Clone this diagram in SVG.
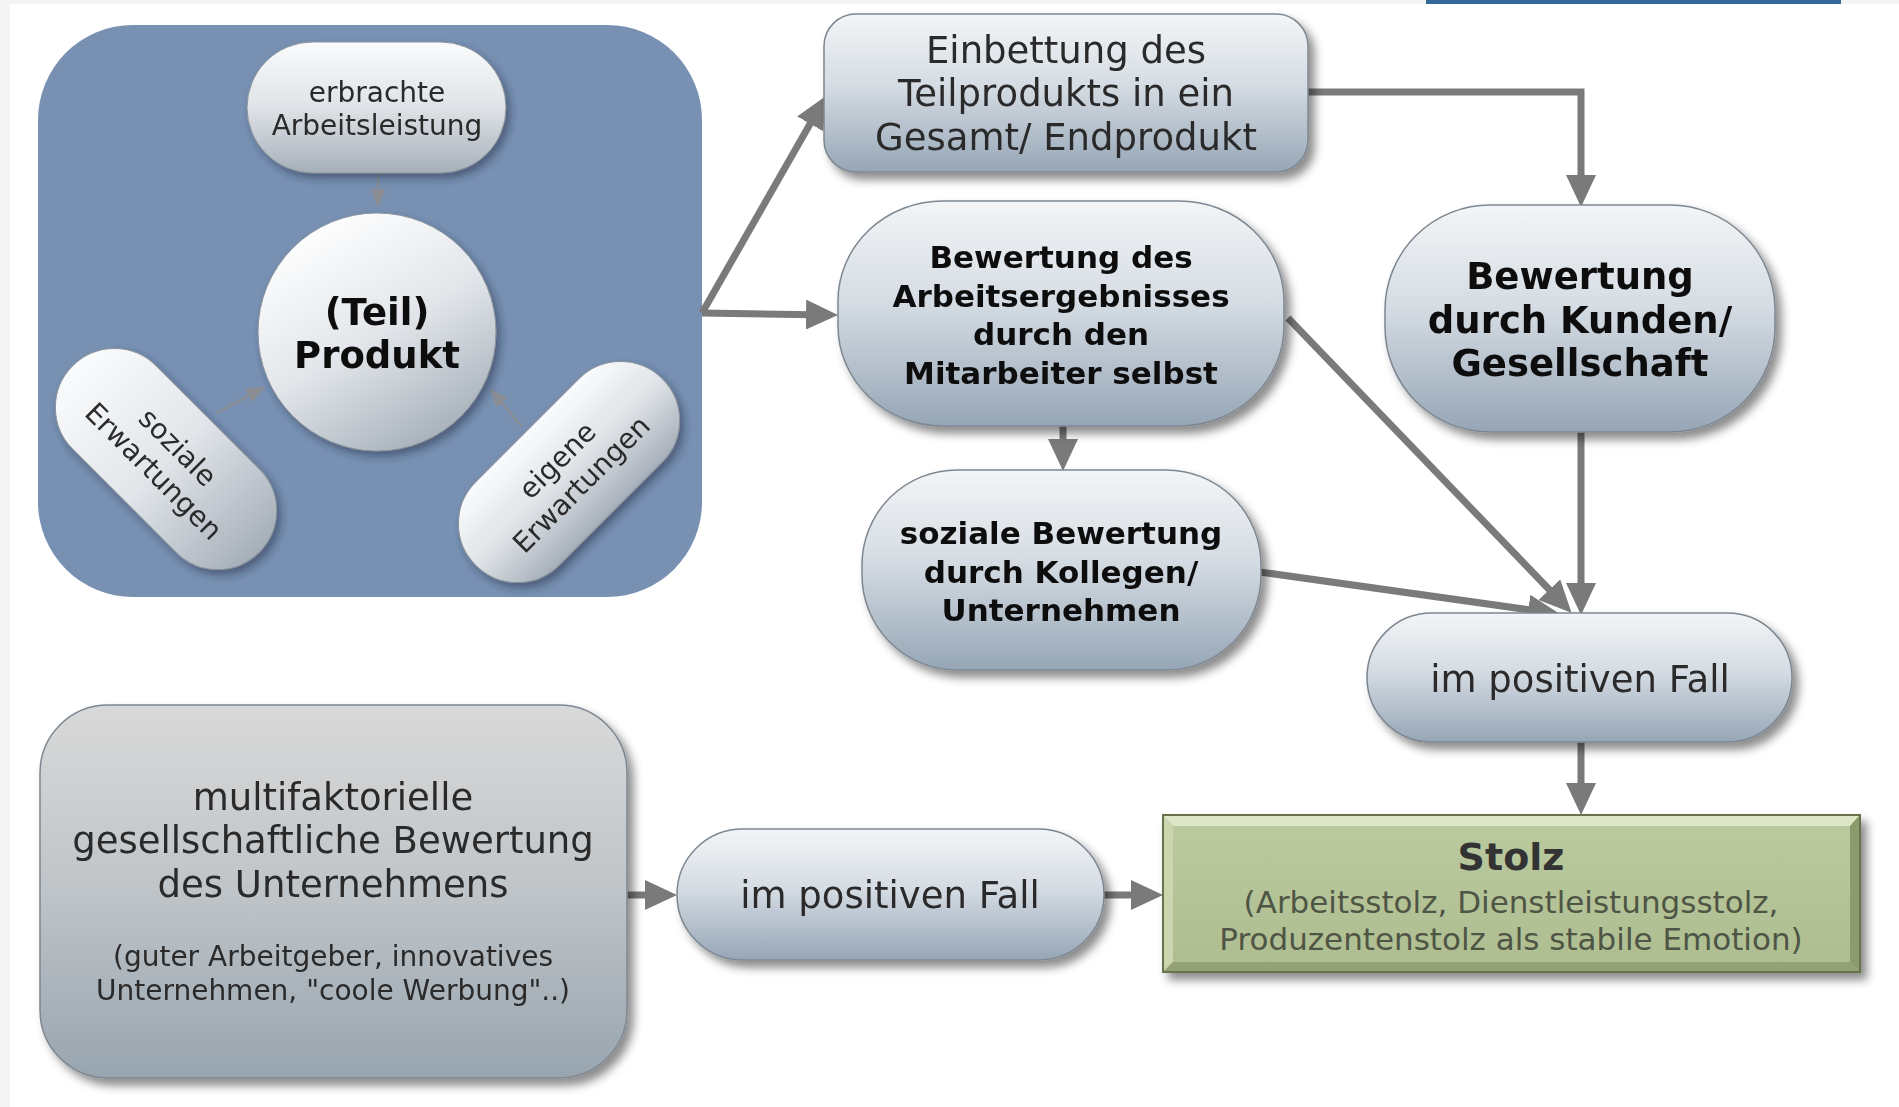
<svg xmlns="http://www.w3.org/2000/svg" width="1899" height="1107" viewBox="0 0 1899 1107">
<defs>
<style>
.t{font-family:"DejaVu Sans","Liberation Sans",sans-serif;fill:#2a2a2a;text-anchor:middle}
.r37{font-size:37px}
.r28{font-size:28px}
.r31{font-size:31px}
.b31{font-size:31px;font-weight:bold;fill:#111}
.b37{font-size:37px;font-weight:bold;fill:#111}
.nd{stroke:#7d8791;stroke-width:1.5}
.con{fill:none;stroke:#7a7a7a;stroke-width:7}
.thin{fill:none;stroke:#8a8e94;stroke-width:2.5}
</style>
<linearGradient id="gNode" x1="0" y1="0" x2="0" y2="1">
<stop offset="0" stop-color="#f3f5f7"/><stop offset="0.45" stop-color="#d5dce3"/><stop offset="1" stop-color="#96a6b6"/>
</linearGradient>
<linearGradient id="gMulti" x1="0" y1="0" x2="0" y2="1">
<stop offset="0" stop-color="#d9d9d9"/><stop offset="0.5" stop-color="#bfc4c8"/><stop offset="1" stop-color="#98a5af"/>
</linearGradient>
<linearGradient id="gPillV" x1="0" y1="0" x2="0" y2="1">
<stop offset="0" stop-color="#fafbfc"/><stop offset="0.5" stop-color="#dfe3e7"/><stop offset="1" stop-color="#a6afb9"/>
</linearGradient>
<linearGradient id="gPillH" x1="0" y1="0" x2="1" y2="0">
<stop offset="0" stop-color="#fafbfc"/><stop offset="0.5" stop-color="#e2e6ea"/><stop offset="1" stop-color="#a6afb9"/>
</linearGradient>
<linearGradient id="gCircle" x1="0.2" y1="0.05" x2="0.75" y2="1">
<stop offset="0" stop-color="#ffffff"/><stop offset="0.5" stop-color="#e2e6ea"/><stop offset="1" stop-color="#a3adb7"/>
</linearGradient>
<linearGradient id="gStolz" x1="0" y1="0" x2="0" y2="1">
<stop offset="0" stop-color="#bccb9f"/><stop offset="1" stop-color="#aebd90"/>
</linearGradient>
<filter id="sh" x="-20%" y="-20%" width="150%" height="150%">
<feDropShadow dx="6" dy="7" stdDeviation="5" flood-color="#000" flood-opacity="0.45"/>
</filter>
<filter id="shs" x="-20%" y="-20%" width="150%" height="150%">
<feDropShadow dx="4" dy="5" stdDeviation="4" flood-color="#1a2a40" flood-opacity="0.5"/>
</filter>
<marker id="ah" markerUnits="userSpaceOnUse" markerWidth="34" markerHeight="32" refX="24" refY="15" orient="auto">
<path d="M0,0 L32,15 L0,30 z" fill="#7a7a7a"/>
</marker>
<marker id="ahs" markerUnits="userSpaceOnUse" markerWidth="20" markerHeight="16" refX="14" refY="7.5" orient="auto">
<path d="M0,0 L19,7.5 L0,15 z" fill="#8a8e94"/>
</marker>
</defs>

<rect x="0" y="0" width="1899" height="1107" fill="#ffffff"/>
<rect x="0" y="0" width="1899" height="4" fill="#f3f3f3"/>
<rect x="0" y="0" width="10" height="1107" fill="#f4f4f4"/>
<rect x="1426" y="0" width="415" height="4" fill="#336699"/>

<g id="container">
<rect x="38" y="25" width="664" height="572" rx="95" fill="#7891b3"/>
</g>

<g id="connectors">
<path class="thin" d="M378,173 V203" marker-end="url(#ahs)"/>
<path class="thin" d="M217,413 L261,389" marker-end="url(#ahs)"/>
<path class="thin" d="M522,427 L493,392" marker-end="url(#ahs)"/>
<path class="con" d="M702,313 L822,103" marker-end="url(#ah)"/>
<path class="con" d="M702,313 L830,315" marker-end="url(#ah)"/>
<path class="con" d="M1306,92 H1581 V199" marker-end="url(#ah)"/>
<path class="con" d="M1063,426 V463" marker-end="url(#ah)"/>
<path class="con" d="M1288,318 L1566,607" marker-end="url(#ah)"/>
<path class="con" d="M1260,572 L1552,613" marker-end="url(#ah)"/>
<path class="con" d="M1581,431 V607" marker-end="url(#ah)"/>
<path class="con" d="M1581,742 V807" marker-end="url(#ah)"/>
<path class="con" d="M624,895 H669" marker-end="url(#ah)"/>
<path class="con" d="M1103,895 H1155" marker-end="url(#ah)"/>
</g>

<g id="erbrachte" filter="url(#shs)">
<rect x="247" y="42" width="259" height="131" rx="65.5" fill="url(#gPillV)" stroke="#8a939c" stroke-width="1"/>
<text class="t r28" x="377" y="102">erbrachte</text>
<text class="t r28" x="377" y="135">Arbeitsleistung</text>
</g>

<g id="produkt" filter="url(#shs)">
<circle cx="377" cy="332" r="119" fill="url(#gCircle)" stroke="#8a939c" stroke-width="1"/>
<text class="t b37" x="377" y="325">(Teil)</text>
<text class="t b37" x="377" y="368">Produkt</text>
</g>

<g id="soziale-erwartungen" filter="url(#shs)">
<g transform="translate(166,459) rotate(45)">
<rect x="-132" y="-59" width="264" height="118" rx="59" fill="url(#gPillH)" stroke="#8a939c" stroke-width="1"/>
<text class="t r28" x="0" y="-7">soziale</text>
<text class="t r28" x="0" y="27">Erwartungen</text>
</g>
</g>

<g id="eigene-erwartungen" filter="url(#shs)">
<g transform="translate(569,472) rotate(-45)">
<rect x="-132" y="-59" width="264" height="118" rx="59" fill="url(#gPillV)" stroke="#8a939c" stroke-width="1"/>
<text class="t r28" x="0" y="-7">eigene</text>
<text class="t r28" x="0" y="27">Erwartungen</text>
</g>
</g>

<g id="einbettung" filter="url(#sh)">
<rect class="nd" x="824" y="14" width="484" height="158" rx="32" fill="url(#gNode)"/>
<text class="t r37" x="1066" y="63">Einbettung des</text>
<text class="t r37" x="1066" y="106">Teilprodukts in ein</text>
<text class="t r37" x="1066" y="150">Gesamt/ Endprodukt</text>
</g>

<g id="bewertung-mitarbeiter" filter="url(#sh)">
<rect class="nd" x="838" y="201" width="446" height="225" rx="105" ry="100" fill="url(#gNode)"/>
<text class="t b31" x="1061" y="268">Bewertung des</text>
<text class="t b31" x="1061" y="307">Arbeitsergebnisses</text>
<text class="t b31" x="1061" y="345">durch den</text>
<text class="t b31" x="1061" y="384">Mitarbeiter selbst</text>
</g>

<g id="bewertung-kunden" filter="url(#sh)">
<rect class="nd" x="1385" y="205" width="390" height="227" rx="105" ry="105" fill="url(#gNode)"/>
<text class="t b37" x="1580" y="289">Bewertung</text>
<text class="t b37" x="1580" y="333">durch Kunden/</text>
<text class="t b37" x="1580" y="376">Gesellschaft</text>
</g>

<g id="soziale-bewertung" filter="url(#sh)">
<rect class="nd" x="862" y="470" width="399" height="200" rx="95" ry="95" fill="url(#gNode)"/>
<text class="t b31" x="1061" y="544">soziale Bewertung</text>
<text class="t b31" x="1061" y="583">durch Kollegen/</text>
<text class="t b31" x="1061" y="621">Unternehmen</text>
</g>

<g id="positiv-rechts" filter="url(#sh)">
<rect class="nd" x="1367" y="613" width="425" height="129" rx="64.5" fill="url(#gNode)"/>
<text class="t r37" x="1580" y="692">im positiven Fall</text>
</g>

<g id="multifaktoriell" filter="url(#sh)">
<rect class="nd" x="40" y="705" width="587" height="373" rx="68" fill="url(#gMulti)"/>
<text class="t r37" x="333" y="810">multifaktorielle</text>
<text class="t r37" x="333" y="853">gesellschaftliche Bewertung</text>
<text class="t r37" x="333" y="897">des Unternehmens</text>
<text class="t r28" x="333" y="966">(guter Arbeitgeber, innovatives</text>
<text class="t r28" x="333" y="1000">Unternehmen, "coole Werbung"..)</text>
</g>

<g id="positiv-unten" filter="url(#sh)">
<rect class="nd" x="677" y="829" width="427" height="131" rx="65.5" fill="url(#gNode)"/>
<text class="t r37" x="890" y="908">im positiven Fall</text>
</g>

<g id="stolz">
<g filter="url(#sh)">
<rect x="1163" y="815" width="697" height="157" fill="url(#gStolz)" stroke="#66734c" stroke-width="2"/>
</g>
<polygon points="1164,816 1859,816 1850,826 1173,826" fill="#dde6c6"/>
<polygon points="1164,816 1173,826 1173,962 1164,971" fill="#cbd6b0"/>
<polygon points="1859,816 1859,971 1850,962 1850,826" fill="#8d9a6c"/>
<polygon points="1164,971 1859,971 1850,962 1173,962" fill="#94a174"/>
<text class="t" x="1511" y="870" style="font-size:38px;font-weight:bold;fill:#333">Stolz</text>
<text class="t r31" x="1511" y="913" style="fill:#4f5545">(Arbeitsstolz, Dienstleistungsstolz,</text>
<text class="t r31" x="1511" y="950" style="fill:#4f5545">Produzentenstolz als stabile Emotion)</text>
</g>
</svg>
